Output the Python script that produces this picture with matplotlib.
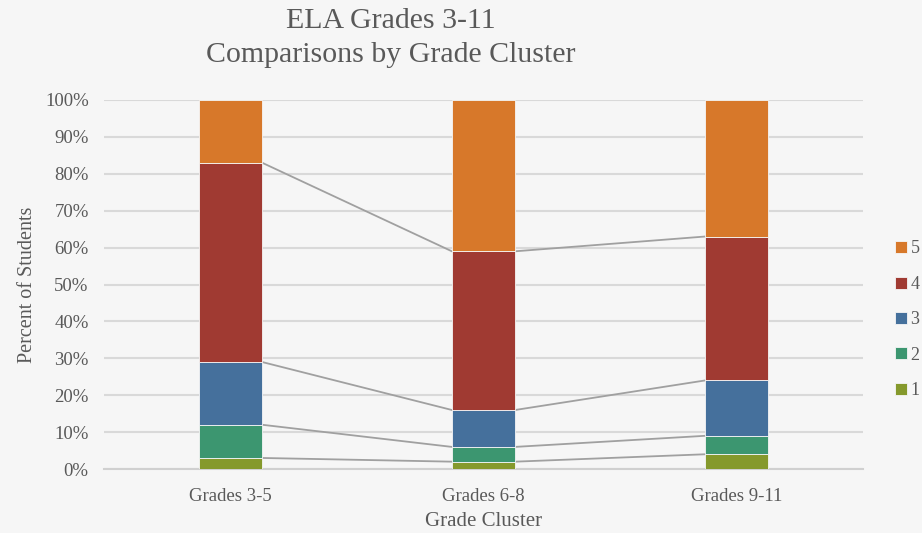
import matplotlib
matplotlib.use("Agg")
import matplotlib.pyplot as plt
import numpy as np

categories = ["Grades 3-5", "Grades 6-8", "Grades 9-11"]
levels = ["1", "2", "3", "4", "5"]
level1 = [3, 2, 4]
level2 = [9, 4, 5]
level3 = [17, 10, 15]
level4 = [54, 43, 39]
level5 = [17, 41, 37]
series = [level1, level2, level3, level4, level5]
colors = ["#85992C", "#3C9670", "#45709C", "#A03A32", "#D7782A"]
yticks = [0, 10, 20, 30, 40, 50, 60, 70, 80, 90, 100]

plt.rcParams['font.family'] = ['Liberation Serif', 'DejaVu Serif']
bg = "#F6F6F6"
fig = plt.figure(figsize=(9.22, 5.33), dpi=100, facecolor=bg)
ax = fig.add_axes([0.1128, 0.12, 0.8232, 0.6924], facecolor=bg)

x = np.arange(len(categories))
width = 0.25
bottom = np.zeros(len(categories))
handles = []
for vals, col, lab in zip(series, colors, levels):
    v = np.array(vals, dtype=float)
    h = ax.bar(x, v, width, bottom=bottom, color=col, edgecolor=bg, linewidth=0.6, label=lab, zorder=3)
    handles.append(h)
    top = bottom + v
    if lab != "5":
        for i in range(len(categories) - 1):
            ax.plot([x[i] + width / 2, x[i + 1] - width / 2], [top[i], top[i + 1]],
                    color="#A0A0A0", linewidth=1.3, zorder=2)
    bottom = top

ax.set_xlim(-0.5, 2.5)
ax.set_ylim(0, 100)
ax.set_yticks(yticks)
ax.set_yticklabels([f"{t}%" for t in yticks])
ax.set_xticks(x)
ax.set_xticklabels(categories)
ax.grid(axis='y', color="#D9D9D9", linewidth=1.5, zorder=0)
ax.set_axisbelow(True)
for s in ["top", "right", "left"]:
    ax.spines[s].set_visible(False)
ax.spines["bottom"].set_color("#D0D0D0")
ax.spines["bottom"].set_linewidth(1.5)
ax.tick_params(axis='both', length=0, labelsize=13.5, colors="#595959")
ax.tick_params(axis='y', pad=11)
ax.tick_params(axis='x', pad=14)
ax.set_ylabel("Percent of Students", fontsize=14.5, color="#595959", labelpad=6)
fig.text(0.524, 0.022, "Grade Cluster", ha="center", va="center", fontsize=15, color="#595959")
fig.text(0.424, 0.929, "ELA Grades 3-11\nComparisons by Grade Cluster", ha="center", va="center",
         fontsize=21.5, color="#595959", linespacing=1.4)

leg = fig.legend(handles[::-1], levels[::-1], loc="center left", bbox_to_anchor=(0.971, 0.40),
                 frameon=False, fontsize=13, handlelength=0.65, handleheight=0.65,
                 labelspacing=1.02, handletextpad=0.2, borderpad=0, borderaxespad=0)
for t in leg.get_texts():
    t.set_color("#595959")

fig.savefig("out.png", dpi=100, facecolor=bg)
